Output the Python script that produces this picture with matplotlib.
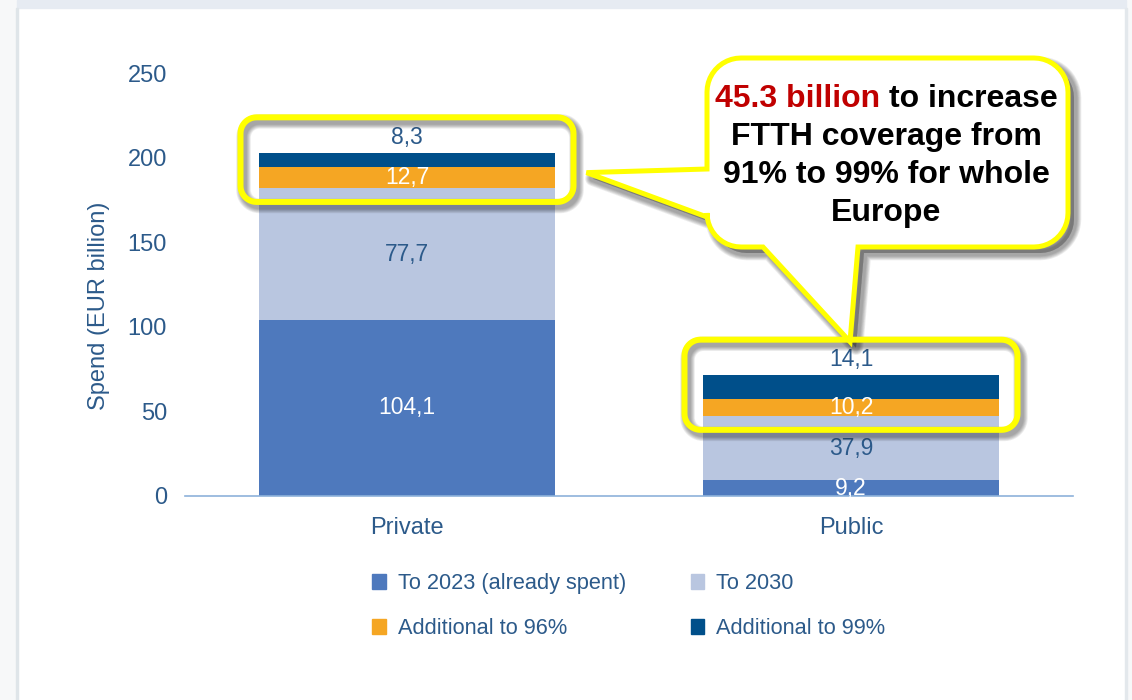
import numpy as np
import matplotlib
matplotlib.use("Agg")
import matplotlib.pyplot as plt
from matplotlib.patches import Patch, PathPatch, Rectangle
from matplotlib.path import Path
from matplotlib.transforms import IdentityTransform

# FTTH spend by funding source (EUR billion)
categories = ["Private", "Public"]
series_names = ["To 2023 (already spent)", "To 2030", "Additional to 96%", "Additional to 99%"]
to_2023 = [104.1, 9.2]
to_2030 = [77.7, 37.9]
add_96 = [12.7, 10.2]
add_99 = [8.3, 14.1]
y_ticks = [0, 50, 100, 150, 200, 250]

callout_red = "45.3 billion"
callout_rest = " to increase"
callout_lines = ["FTTH coverage from", "91% to 99% for whole", "Europe"]

colors = ["#4e79bd", "#b9c6e0", "#f5a623", "#004f8a"]
label_colors = ["white", "#2c5a8a", "white", "#2c5a8a"]
text_blue = "#2c5a8a"
yellow = "#ffff00"
W, H = 1132, 700

plt.rcParams["font.family"] = ["Liberation Sans", "DejaVu Sans"]

fig = plt.figure(figsize=(W / 100, H / 100), dpi=100)
fig.patch.set_facecolor("white")
ax = fig.add_axes([185 / W, 204 / H, 888 / W, 423 / H])


def px(x, y_top):
    """Pixel position measured from the top-left corner -> display coords."""
    return np.array([x, H - y_top], dtype=float)


# page frame around the chart panel
frame = [
    Rectangle((0, 0), 17, H, color="#f7f8f9"),
    Rectangle((1126, 0), W - 1126, H, color="#f7f8f9"),
    Rectangle((17, H - 8), 1109, 8, color="#e6ebf2"),
    Rectangle((16, 0), 2, H - 8, color="#dfe5e9"),
    Rectangle((1125, 0), 1.5, H - 8, color="#e3e8ec"),
]
for p in frame:
    p.set_transform(IdentityTransform())
    p.set_zorder(-1)
    fig.add_artist(p)

# stacked bars
x = np.arange(len(categories))
bar_w = 0.667
stack = [to_2023, to_2030, add_96, add_99]
bottom = np.zeros(len(categories))
for k, (vals, c, lc) in enumerate(zip(stack, colors, label_colors)):
    vals = np.array(vals)
    ax.bar(x, vals, bar_w, bottom=bottom, color=c, zorder=2)
    for xi, v, b in zip(x, vals, bottom):
        txt = f"{v:.1f}".replace(".", ",")
        if k == len(stack) - 1:
            ax.text(xi, b + v + 9, txt, ha="center", va="center",
                    color=lc, fontsize=16.5, zorder=3)
        else:
            ax.text(xi, b + v / 2, txt, ha="center", va="center",
                    color=lc, fontsize=16.5, zorder=3)
    bottom += vals
totals = bottom.copy()

ax.set_xlim(-0.5, 1.5)
ax.set_ylim(0, 250)
ax.set_yticks(y_ticks)
ax.set_xticks(x)
ax.set_xticklabels(categories)
ax.tick_params(axis="y", length=0, pad=13, labelsize=17, labelcolor=text_blue)
ax.tick_params(axis="x", length=0, pad=15, labelsize=17, labelcolor=text_blue)
for s in ["top", "right", "left"]:
    ax.spines[s].set_visible(False)
ax.spines["bottom"].set_color("#8db2da")
ax.spines["bottom"].set_linewidth(1.2)
ax.set_ylabel("Spend (EUR billion)", fontsize=17, color=text_blue)
ax.yaxis.set_label_coords(-0.085, 0.45)

handles = [Patch(color=c) for c in colors]
order = [0, 2, 1, 3]
fig.legend([handles[i] for i in order], [series_names[i] for i in order],
           loc="upper left", bbox_to_anchor=(372 / W, 1 - 573 / H), ncol=2,
           frameon=False, fontsize=15.7, handlelength=0.64, handleheight=0.64,
           handletextpad=0.55, columnspacing=2.95, labelspacing=1.1,
           borderpad=0, borderaxespad=0, labelcolor=text_blue)


def outline(x0, y0, x1, y1, r, left_tail=None, bottom_tail=None, n=12):
    """Rounded rectangle in display coords, optionally with pointer tails."""
    pts = []

    def arc(cx, cy, a0, a1):
        for a in np.linspace(np.radians(a0), np.radians(a1), n):
            pts.append((cx + r * np.cos(a), cy + r * np.sin(a)))

    pts.append((x0 + r, y1))
    arc(x1 - r, y1 - r, 90, 0)
    arc(x1 - r, y0 + r, 0, -90)
    if bottom_tail is not None:
        pts.extend(bottom_tail)
    arc(x0 + r, y0 + r, -90, -180)
    if left_tail is not None:
        pts.extend(left_tail)
    arc(x0 + r, y1 - r, 180, 90)
    pts.append(pts[0])
    codes = [Path.MOVETO] + [Path.LINETO] * (len(pts) - 2) + [Path.CLOSEPOLY]
    return Path(np.array(pts), codes)


def add_shadow(path, offset, filled, lw_px, z):
    shifted = Path(path.vertices + np.array(offset), path.codes)
    for k in range(6):
        width = lw_px + 1.6 * (6 - k)
        fig.add_artist(PathPatch(
            shifted, facecolor=(0, 0, 0, 0.05) if filled else "none",
            edgecolor=(0.12, 0.12, 0.12, 0.08), lw=width * 0.72,
            joinstyle="round", transform=IdentityTransform(), zorder=z))


# highlight boxes around the top segments of each bar
boxes = []
for i in range(len(categories)):
    base = to_2023[i] + to_2030[i]
    p0 = ax.transData.transform((x[i] - 0.375, base - 8))
    p1 = ax.transData.transform((x[i] + 0.375, totals[i] + 21))
    boxes.append((p0[0], p0[1], p1[0], p1[1]))

for (bx0, by0, bx1, by1) in boxes:
    path = outline(bx0, by0, bx1, by1, 16)
    add_shadow(path, (3, -4), False, 5, 6)
    fig.add_artist(PathPatch(path, facecolor="none", edgecolor=yellow, lw=6 * 0.72,
                             joinstyle="round", transform=IdentityTransform(), zorder=8))

# callout bubble with two pointers
cx0, cy0 = px(707, 247)
cx1, cy1 = px(1068, 58)
b1, b2 = boxes
tip_left = (b1[2] + 13, (b1[1] + b1[3]) / 2 - 13)
tip_bottom = ((b2[0] + b2[2]) / 2 - 1, b2[3] - 2)
left_tail = [(cx0, H - 217), tip_left, (cx0, H - 169)]
bottom_tail = [(858, cy0), tip_bottom, (763, cy0)]
bubble = outline(cx0, cy0, cx1, cy1, 34, left_tail=left_tail, bottom_tail=bottom_tail)
add_shadow(bubble, (6, -6), True, 5, 6)
fig.add_artist(PathPatch(bubble, facecolor="white", edgecolor=yellow, lw=5 * 0.72,
                         joinstyle="miter", transform=IdentityTransform(), zorder=7))

# callout text
cx_mid = 886 / W
fs = 23
renderer = fig.canvas.get_renderer()
full = fig.text(0, 0, callout_red + callout_rest, fontsize=fs, fontweight="bold")
w_full = full.get_window_extent(renderer).width / W
full.remove()
y1 = 1 - 99 / H
fig.text(cx_mid - w_full / 2, y1, callout_red, fontsize=fs, fontweight="bold",
         color="#c00000", ha="left", va="center", zorder=10)
fig.text(cx_mid + w_full / 2, y1, callout_rest.strip(), fontsize=fs, fontweight="bold",
         color="black", ha="right", va="center", zorder=10)
for j, line in enumerate(callout_lines):
    fig.text(cx_mid, 1 - (137 + 38 * j) / H, line, fontsize=fs, fontweight="bold",
             color="black", ha="center", va="center", zorder=10)

fig.savefig("out.png", dpi=100, facecolor="white")
